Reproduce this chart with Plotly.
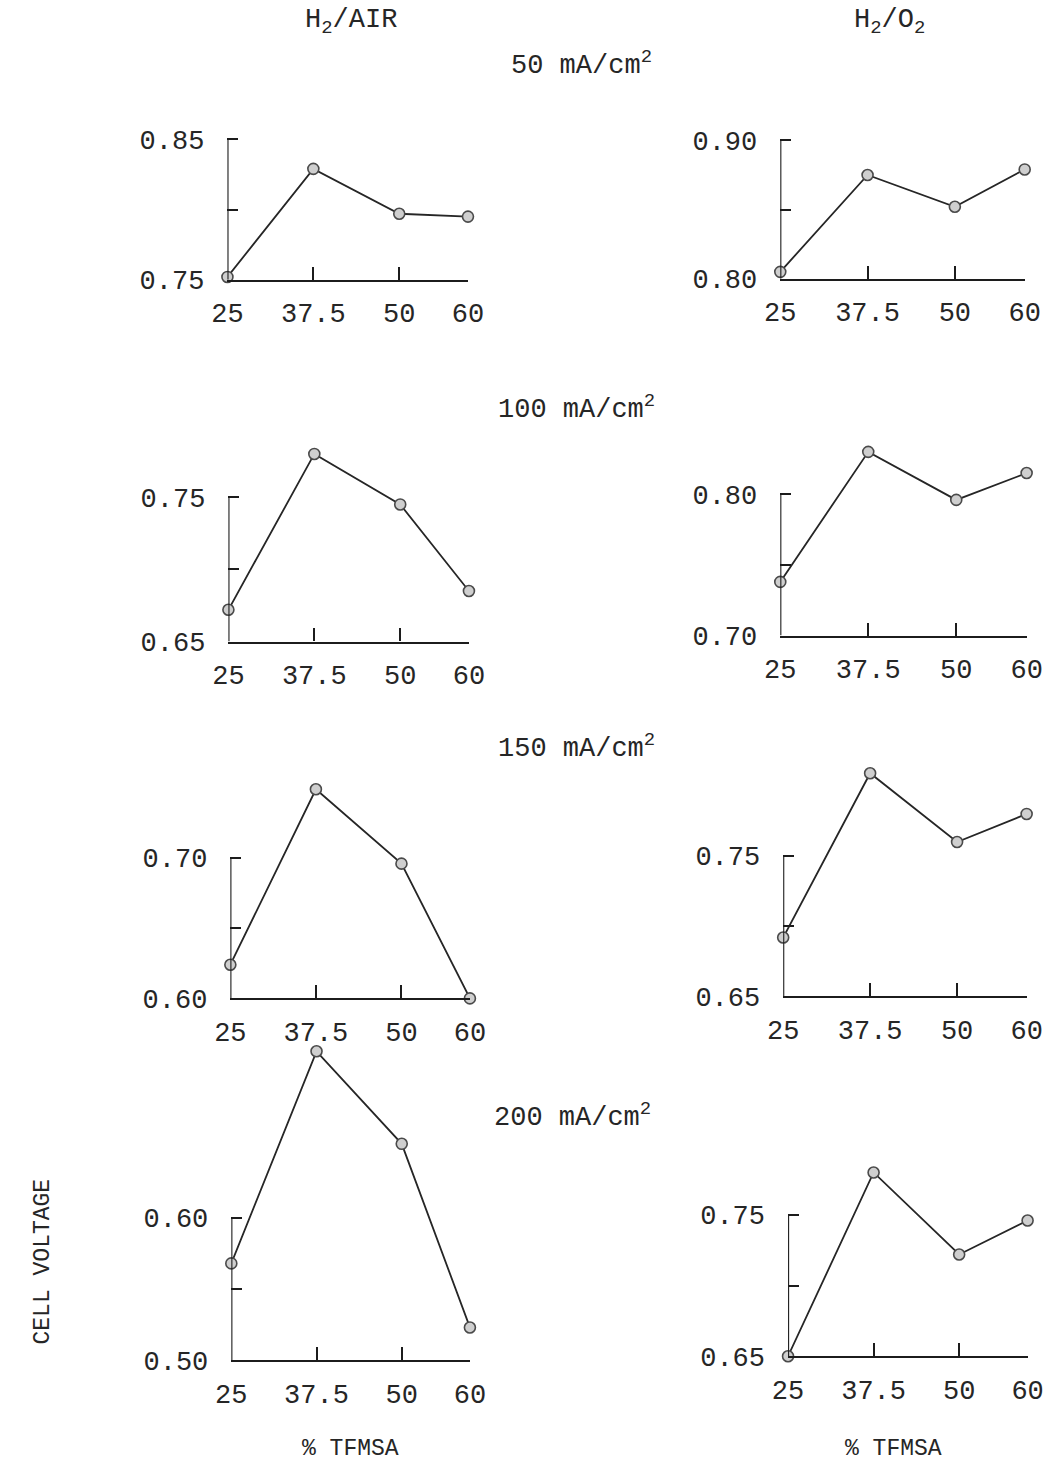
import plotly.graph_objects as go

W, H = 1063, 1479
FONT = "Liberation Mono, Courier New, monospace"
INK = "#1c1c1c"
TEXT = "#262626"

# % TFMSA in the electrolyte
tfmsa = [25, 37.5, 50, 60]
x_tick_labels = ["25", "37.5", "50", "60"]
current_densities = ["50", "100", "150", "200"]

# cell voltage (V), H2/air
air_50 = [0.752, 0.829, 0.797, 0.795]
air_100 = [0.672, 0.780, 0.745, 0.685]
air_150 = [0.624, 0.749, 0.696, 0.600]
air_200 = [0.568, 0.717, 0.652, 0.523]

# cell voltage (V), H2/O2
o2_50 = [0.805, 0.875, 0.852, 0.879]
o2_100 = [0.738, 0.830, 0.796, 0.815]
o2_150 = [0.692, 0.809, 0.760, 0.780]
o2_200 = [0.650, 0.780, 0.722, 0.746]

# voltage scale of each panel: (bottom, top)
air_scales = [(0.75, 0.85), (0.65, 0.75), (0.60, 0.70), (0.50, 0.60)]
o2_scales = [(0.80, 0.90), (0.70, 0.80), (0.65, 0.75), (0.65, 0.75)]

# panel frames in pixels: (x at 25, x at 60, y at scale bottom, y at scale top)
air_frames = [(218, 466, 283, 141), (219, 467, 649, 503), (221, 468, 1010, 868), (222, 468, 1376, 1232)]
o2_frames = [(788, 1040, 282, 142), (788, 1042, 643, 500), (791, 1042, 1008, 866), (796, 1043, 1372, 1229)]

panels = list(zip([air_50, air_100, air_150, air_200], air_scales, air_frames))
panels += list(zip([o2_50, o2_100, o2_150, o2_200], o2_scales, o2_frames))

fig = go.Figure()
shapes = []
layout_axes = {}

for k, (series, (lo, hi), (x0, x1, yb, yt)) in enumerate(panels, start=1):
    px_per_unit = (yb - yt) / (hi - lo)
    y_max_px = yb - (max(series) - lo) * px_per_unit
    y_top_px = min(yt, y_max_px) - 16
    range_top = lo + (yb - y_top_px) / px_per_unit

    xa = "xaxis" if k == 1 else f"xaxis{k}"
    ya = "yaxis" if k == 1 else f"yaxis{k}"
    xr = "x" if k == 1 else f"x{k}"
    yr = "y" if k == 1 else f"y{k}"

    fig.add_trace(go.Scatter(
        x=tfmsa, y=series, xaxis=xr, yaxis=yr,
        mode="lines+markers", cliponaxis=False, showlegend=False,
        line=dict(color="#262626", width=1.8),
        marker=dict(size=11, color="#cfcfcf", line=dict(color="#4a4a4a", width=1.6)),
    ))

    mid = round((lo + hi) / 2, 3)
    layout_axes[xa] = dict(
        domain=[x0 / W, x1 / W], anchor=yr, range=[25, 60],
        tickmode="array", tickvals=tfmsa, ticktext=x_tick_labels,
        ticks="inside", ticklen=13, tickwidth=2, tickcolor=INK,
        showline=True, linecolor=INK, linewidth=2.2,
        showgrid=False, zeroline=False, ticklabelstandoff=8,
        tickfont=dict(family=FONT, size=27, color=TEXT),
    )
    layout_axes[ya] = dict(
        domain=[1 - yb / H, 1 - y_top_px / H], anchor=xr, range=[lo, range_top],
        tickmode="array", tickvals=[lo, mid, hi],
        ticktext=[f"{lo:.2f}", "", f"{hi:.2f}"],
        ticks="inside", ticklen=11, tickwidth=2, tickcolor=INK,
        showline=False, showgrid=False, zeroline=False, ticklabelstandoff=22,
        tickfont=dict(family=FONT, size=27, color=TEXT),
    )
    # vertical axis runs only from the bottom to the top of the voltage scale
    shapes.append(dict(type="line", xref=xr, yref=yr, x0=25, x1=25, y0=lo, y1=hi,
                       line=dict(color=INK, width=2.2)))


def label(text, px, py, size=27, xanchor="center", angle=0):
    return dict(text=text, x=px / W, y=1 - py / H, xref="paper", yref="paper",
                xanchor=xanchor, yanchor="middle", textangle=angle, showarrow=False,
                font=dict(family=FONT, size=size, color=TEXT))


annotations = [
    # column headers
    label("H<sub>2</sub>/AIR", 345, 22),
    label("H<sub>2</sub>/O<sub>2</sub>", 901, 22),
    # axis titles
    label("CELL VOLTAGE", 28, 1276, size=23, angle=-90),
    label("% TFMSA", 345, 1466, size=23),
    label("% TFMSA", 905, 1466, size=23),
]

# current density labels
cd_pos = [(508, 64), (495, 412), (495, 755), (491, 1128)]
for cd, (px, py) in zip(current_densities, cd_pos):
    annotations.append(label(f"{cd} mA/cm<sup>2</sup>", px, py, xanchor="left"))

fig.update_layout(
    width=W, height=H, margin=dict(l=0, r=0, t=0, b=0),
    paper_bgcolor="white", plot_bgcolor="rgba(0,0,0,0)",
    shapes=shapes, annotations=annotations, **layout_axes,
)

fig.write_html("out.html")
